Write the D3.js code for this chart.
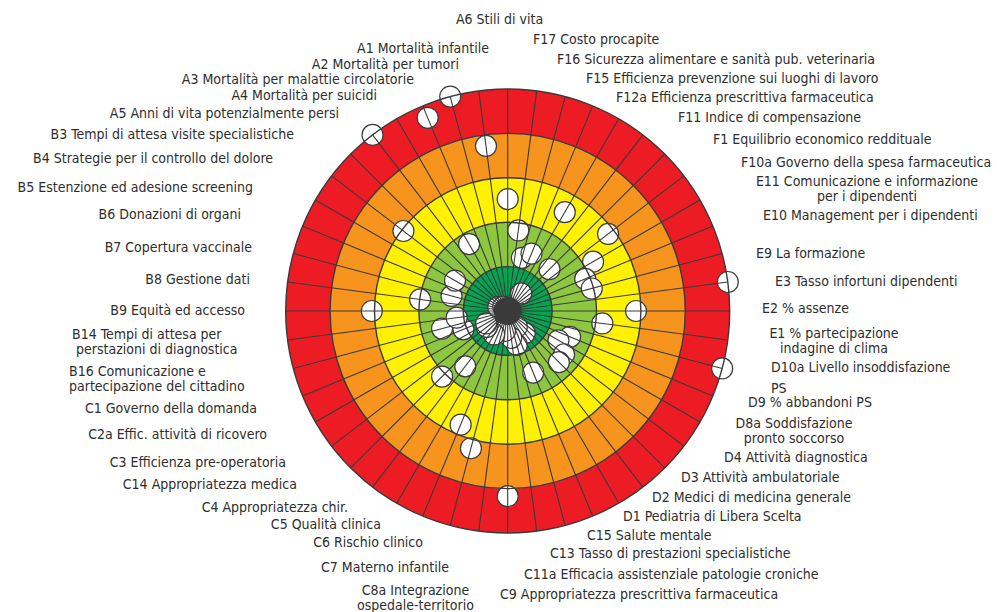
<!DOCTYPE html>
<html>
<head>
<meta charset="utf-8">
<script src="https://cdn.jsdelivr.net/npm/d3@7"></script>
<style>
  body { margin: 0; background: #fff; }
  text { font-family: "DejaVu Sans Condensed", "DejaVu Sans", sans-serif; font-size: 14px; fill: #2e2e2e; white-space: pre; }
</style>
</head>
<body>
<div id="bersaglio"></div>
<script>
// indicators, clockwise from the top
var codes = ["A6","F17","F16","F15","F12a","F11","F1","F10a","E11","E10","E9","E3",
  "E2","E1","D10a","D9","D8a","D4","D3","D2","D1","C15","C13","C11a",
  "C9","C8a","C7","C6","C5","C4","C14","C3","C2a","C1","B16","B14",
  "B9","B8","B7","B6","B5","B4","B3","A5","A4","A3","A2","A1"];

var labels = ["A6 Stili di vita", "F17 Costo procapite",
  "F16 Sicurezza alimentare e sanità pub. veterinaria",
  "F15 Efficienza prevenzione sui luoghi di lavoro",
  "F12a Efficienza prescrittiva farmaceutica", "F11 Indice di compensazione",
  "F1 Equilibrio economico reddituale", "F10a Governo della spesa farmaceutica",
  "E11 Comunicazione e informazione\nper i dipendenti", "E10 Management per i dipendenti",
  "E9 La formazione", "E3 Tasso infortuni dipendenti", "E2 % assenze",
  "E1 % partecipazione\nindagine di clima", "D10a Livello insoddisfazione\nPS",
  "D9 % abbandoni PS", "D8a Soddisfazione\npronto soccorso", "D4 Attività diagnostica",
  "D3 Attività ambulatoriale", "D2 Medici di medicina generale",
  "D1 Pediatria di Libera Scelta", "C15 Salute mentale",
  "C13 Tasso di prestazioni specialistiche", "C11a Efficacia assistenziale patologie croniche",
  "C9 Appropriatezza prescrittiva farmaceutica", "C8a Integrazione\nospedale-territorio",
  "C7 Materno infantile", "C6 Rischio clinico", "C5 Qualità clinica",
  "C4 Appropriatezza chir.", "C14 Appropriatezza medica", "C3 Efficienza pre-operatoria",
  "C2a Effic. attività di ricovero", "C1 Governo della domanda",
  "B16 Comunicazione e\npartecipazione del cittadino",
  "B14 Tempi di attesa per\n perstazioni di diagnostica", "B9 Equità ed accesso",
  "B8 Gestione dati", "B7 Copertura vaccinale", "B6 Donazioni di organi",
  "B5 Estenzione ed adesione screening", "B4 Strategie per il controllo del dolore",
  "B3 Tempi di attesa visite specialistiche", "A5 Anni di vita potenzialmente persi",
  "A4 Mortalità per suicidi", "A3 Mortalità per malattie circolatorie",
  "A2 Mortalità per tumori", "A1 Mortalità infantile"];

// performance score 0 (outer red) .. 5 (centre)
var scores = [2.48, 3.17, 3.76, 3.60, 2.43, 4.50, 3.67, 2.15, 2.78, 3.11, 3.04, 0.00,
  2.11, 2.85, 0.00, 3.48, 3.68, 3.40, 3.37, 4.37, 4.59, 3.50, 4.21, 4.39,
  0.83, 4.55, 1.80, 2.23, 4.39, 3.43, 2.91, 4.41, 4.44, 3.92, 3.47, 3.84,
  1.94, 3.01, 3.69, 4.77, 3.63, 2.04, 4.86, 0.00, 3.26, 0.29, 0.00, 1.25];

var bandColors = ["#ed1c24", "#f7941d", "#fff200", "#8dc63f", "#00a651"];

// label placement: [x, baseline y, anchor, line height]
var labelPos = [
  [456, 24, "start"], [533, 44, "start"], [557, 64, "start"], [586, 83, "start"],
  [616, 102, "start"], [678, 122, "start"], [713, 144, "start"], [741, 167, "start"],
  [867, 186, "middle", 14.5], [763, 220, "start"], [756, 258, "start"], [775, 286, "start"],
  [762, 313, "start"], [834, 338, "middle", 15], [771, 372, "start", 20.5], [748, 407, "start"],
  [794, 428, "middle", 14.5], [724, 462, "start"], [681, 482, "start"], [652, 502, "start"],
  [623, 521, "start"], [587, 540, "start"], [550, 558, "start"], [524, 579, "start"],
  [500, 599, "start"], [415.5, 595, "middle", 14.5], [449, 572, "end"], [423, 547, "end"],
  [381, 529, "end"], [348, 512, "end"], [297, 489, "end"], [286, 467, "end"],
  [267, 439, "end"], [257, 413, "end"], [69, 376, "start", 14.5], [72, 339, "start", 15],
  [245, 315, "end"], [250, 284, "end"], [252, 252, "end"], [241, 219, "end"],
  [253, 192, "end"], [273, 163, "end"], [294, 139, "end"], [339, 118, "end"],
  [377, 100, "end"], [414, 83.5, "end"], [459, 69, "end"], [489, 53, "end"]];

var width = 997, height = 612;
var cx = 507.7, cy = 311, R = 222;

var svg = d3.select("#bersaglio")
  .append("svg")
  .attr("width", width)
  .attr("height", height);

var g = svg.append("g")
  .attr("transform", "translate(" + cx + "," + cy + ")");

// score -> radius, index -> angle
var r = d3.scaleLinear().domain([0, 5]).range([R, 0]);
var angle = d3.scaleLinear().domain([0, codes.length]).range([0, 2 * Math.PI]);

// coloured bands
var arc = d3.arc();
g.selectAll("path.band")
  .data(bandColors)
  .join("path")
  .attr("class", "band")
  .attr("d", function (c, i) {
    return arc({ innerRadius: r(i + 1), outerRadius: r(i), startAngle: 0, endAngle: 2 * Math.PI });
  })
  .attr("fill", function (c) { return c; });

var data = codes.map(function (c, i) { return { code: c, i: i, score: scores[i] }; });

// indicator dots
g.selectAll("circle.dot")
  .data(data)
  .join("circle")
  .attr("class", "dot")
  .attr("cx", function (d) { return r(d.score) * Math.sin(angle(d.i)); })
  .attr("cy", function (d) { return -r(d.score) * Math.cos(angle(d.i)); })
  .attr("r", 10.5)
  .attr("fill", "#fff")
  .attr("stroke", "#3c3c3c")
  .attr("stroke-width", 1.2);

// spokes, drawn over the dots
g.selectAll("line.spoke")
  .data(data)
  .join("line")
  .attr("class", "spoke")
  .attr("x1", 0).attr("y1", 0)
  .attr("x2", function (d) { return R * Math.sin(angle(d.i)); })
  .attr("y2", function (d) { return -R * Math.cos(angle(d.i)); })
  .attr("stroke", "#3a3a3a")
  .attr("stroke-width", 1.1);

// band borders
g.selectAll("circle.ring")
  .data(d3.range(5))
  .join("circle")
  .attr("class", "ring")
  .attr("r", function (i) { return r(i); })
  .attr("fill", "none")
  .attr("stroke", "#3a3a3a")
  .attr("stroke-width", 1.4);

g.append("circle")
  .attr("r", 14)
  .attr("fill", "#3a3a3a");

// labels
svg.append("g")
  .selectAll("text")
  .data(data)
  .join("text")
  .attr("text-anchor", function (d) { return labelPos[d.i][2]; })
  .each(function (d) {
    var p = labelPos[d.i];
    var lh = p[3] || 14.5;
    d3.select(this).selectAll("tspan")
      .data(labels[d.i].split("\n"))
      .join("tspan")
      .attr("x", p[0])
      .attr("y", function (t, k) { return p[1] + k * lh; })
      .text(function (t) { return t; });
  });
</script>
</body>
</html>
